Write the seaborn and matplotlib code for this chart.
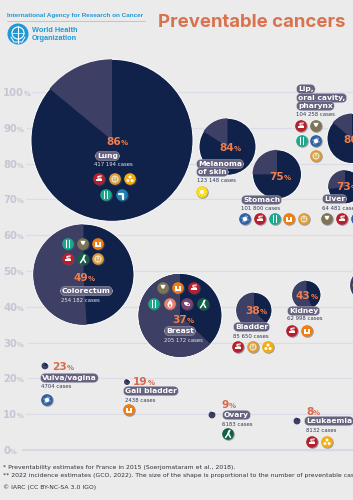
import matplotlib
matplotlib.use("Agg")
import matplotlib.pyplot as plt
from matplotlib.markers import MarkerStyle
from matplotlib.patches import Circle, Rectangle, Polygon, Ellipse
from matplotlib.path import Path
import pandas as pd
import seaborn as sns

# values
cancers = ["Lung", "Melanoma", "Stomach", "Lip", "Liver", "Colorectum", "Breast",
           "Bladder", "Kidney", "Vulva", "Gall", "Ovary", "Leukaemia", "Offscreen"]
preventable = [86, 84, 75, 86, 73, 49, 37, 38, 43, 23, 19, 9, 8, 46]
centre_pct = [86.5, 84.7, 77, 87, 73.5, 49, 37.6, 39, 43.3, 23.5, 19, 9.8, 8.1, 46]
grid_ticks = [0, 10, 20, 30, 40, 50, 60, 70, 80, 90, 100]

# layout, in pixels of the picture
grid_start = [22, 25, 27, 28, 26, 26, 26, 26, 26, 26, 32]
bubble_x = [112, 227.5, 277, 352, 345, 83.5, 180, 254, 306.5, 45, 127, 212, 297, 366]
bubble_r = [81, 28.5, 24.5, 25, 17, 50.5, 42, 18, 14.5, 3.5, 3, 3.5, 3.5, 16]
pct_xy = [(106, 141), (219, 147), (269, 176), (343, 139), (336, 186), (73, 277), (172, 319),
          (245, 310), (296, 295), (52, 366), (133, 381), (222, 404), (306, 411), (351, 284)]

# text name, left, y
pills = [("Lung", 97, 156), ("Melanoma", 198, 164), ("of skin", 198, 172), ("Stomach", 243, 200),
         ("Lip,", 298, 89), ("oral cavity,", 298, 98), ("pharynx", 298, 106), ("Liver", 324, 199),
         ("Colorectum", 62, 291), ("Breast", 166, 331), ("Bladder", 235, 327), ("Kidney", 289, 311),
         ("Vulva/vagina", 42, 378), ("Gall bladder", 125, 391), ("Ovary", 224, 415),
         ("Leukaemia", 306, 421)]
# text, left, y, on dark disc
case_labels = [("417 194 cases", 94, 165, True), ("123 148 cases", 197, 181, False),
               ("101 800 cases", 241, 208, False), ("104 258 cases", 296, 115, False),
               ("64 481 cases", 322, 208, False), ("254 182 cases", 61, 300, True),
               ("205 172 cases", 164, 340, True), ("85 650 cases", 233, 336, False),
               ("62 998 cases", 287, 319, False), ("4704 cases", 41, 387, False),
               ("2438 cases", 125, 401, False), ("6183 cases", 222, 424, False),
               ("8132 cases", 306, 431, False)]
icons = [("tobacco", 99, 179), ("mask", 115, 179), ("radiation", 130, 179), ("diet", 106, 195), ("pipe", 122, 195),
         ("sun", 202, 192),
         ("virus", 245, 219), ("tobacco", 260, 219), ("diet", 275, 219), ("weight", 289, 219), ("mask", 304, 219),
         ("tobacco", 301, 126), ("alcohol", 316, 126), ("diet", 302, 141), ("virus", 316, 141), ("mask", 316, 156),
         ("alcohol", 327, 219), ("tobacco", 342, 219), ("virus", 357, 219),
         ("diet", 68, 244), ("alcohol", 83, 244), ("weight", 98, 244), ("tobacco", 68, 259), ("run", 83, 259), ("mask", 98, 259),
         ("alcohol", 163, 288), ("weight", 178, 288), ("tobacco", 194, 288),
         ("diet", 154, 304), ("flame", 170, 304), ("feed", 187, 304), ("run", 203, 304),
         ("tobacco", 238, 347), ("mask", 253, 347), ("radiation", 268, 347),
         ("tobacco", 292, 331), ("weight", 307, 331),
         ("virus", 47, 400), ("weight", 129, 410), ("run", 228, 434),
         ("tobacco", 312, 442), ("radiation", 327, 442)]
icon_colors = {"tobacco": "#b5202c", "mask": "#dc9c3a", "radiation": "#f5ac0c", "diet": "#1ba98c",
               "pipe": "#1b80b5", "sun": "#f9d90f", "virus": "#2f5fa5", "weight": "#ee7d12",
               "alcohol": "#7d7456", "run": "#0f6246", "flame": "#ea8071", "feed": "#77466f"}

DARK = "#10214a"
LIGHT = "#3d4064"
BG = "#ebebeb"
BLUE = "#2198d6"
PX_PER_PCT = 3.58
ZERO_PX = 450

sns.set_theme(style="white", rc={"figure.facecolor": BG, "axes.facecolor": BG})
plt.rcParams["font.family"] = ["DejaVu Sans"]

fig = plt.figure(figsize=(3.53, 5.0), dpi=100)
ax = fig.add_axes([0, 0, 1, 1])
ax.set_xlim(0, 353)
ax.set_ylim((ZERO_PX - 500) / PX_PER_PCT, ZERO_PX / PX_PER_PCT)
ax.set_axis_off()

# overlay in picture pixels for labels and icons
deco = fig.add_axes([0, 0, 1, 1], facecolor="none")
deco.set_xlim(0, 353)
deco.set_ylim(500, 0)
deco.set_axis_off()

ax.hlines(grid_ticks, grid_start, 353, color="#dcdce7", lw=0.9, zorder=1)
ax.hlines([0], grid_start[0], 353, color="#d8d8e3", lw=1.5, zorder=1)


def pct_text(x, y, value, size, color, pct_size=None, z=5):
    t = deco.text(x, y, str(value), fontsize=size, color=color, fontweight="bold", ha="left", va="center_baseline", zorder=z)
    deco.annotate("%", xy=(1, 0.1), xycoords=t, xytext=(-0.2, 0), textcoords="offset points",
                  fontsize=pct_size or size * 0.68, color=color, fontweight="bold", ha="left", va="bottom", zorder=z)
    return t


for tick in grid_ticks:
    pct_text(3, ZERO_PX - tick * PX_PER_PCT, tick, 7.2, "#c5c5d5", 4.8, 1)

# bubbles
df = pd.DataFrame({"cancer": cancers, "x": bubble_x, "y": centre_pct, "r": bubble_r, "pct": preventable})
df["s"] = (2 * df["r"] * 72 / fig.dpi) ** 2
sns.scatterplot(data=df, x="x", y="y", s=df["s"].tolist(), color=DARK, edgecolor="white", linewidth=0.7,
                legend=False, ax=ax, zorder=3, clip_on=True)
for row in df.itertuples():
    arc = Path.wedge(90, 90 + 360 * (100 - row.pct) / 100)
    sns.scatterplot(x=[row.x], y=[row.y], s=row.s, color=LIGHT, edgecolor="none", linewidth=0,
                    marker=MarkerStyle(arc), legend=False, ax=ax, zorder=4)
ax.set_xlabel("")
ax.set_ylabel("")
ax.set_axis_off()

for (x, y), value, r in zip(pct_xy, preventable, bubble_r):
    if r > 10:
        pct_text(x, y, value, 7.6, "#f07f4e")
    else:
        pct_text(x, y, value, 7.6, "#d8694c")

for name, x, y in pills:
    deco.text(x, y, name, fontsize=5.4, color="white", fontweight="bold", ha="left", va="center",
              bbox=dict(boxstyle="round,pad=0.22,rounding_size=0.7", fc="#65637f", ec="#d8d8e0", lw=0.2), zorder=6)
for name, x, y, on_dark in case_labels:
    deco.text(x, y, name, fontsize=3.9, color="#e6e6ee" if on_dark else "#33395a", ha="left", va="center", zorder=6)


def draw_icon(kind, x, y):
    deco.add_patch(Circle((x + 0.7, y + 0.7), 6.1, fc="#5c5c66", ec="none", alpha=0.55, zorder=7))
    deco.add_patch(Circle((x, y), 5.8, fc=icon_colors[kind], ec="none", zorder=7))
    w = dict(fc="white", ec="none", zorder=8)
    if kind == "tobacco":
        deco.add_patch(Rectangle((x - 3.4, y + 0.2), 6.8, 1.6, **w))
        deco.plot([x + 2.5, x - 1, x - 1, x + 2], [y - 3, y - 2.6, y - 0.8, y - 0.8], color="white", lw=0.8, zorder=8)
    elif kind == "mask":
        deco.add_patch(Circle((x, y), 3.6, fc="#f4ddb0", ec="none", zorder=8))
        for dx, dy in [(-1.3, -1), (1.3, -1), (-1.3, 1), (0, 1), (1.3, 1)]:
            deco.add_patch(Circle((x + dx, y + dy), 0.55, fc="#9b6a2a", ec="none", zorder=9))
    elif kind == "radiation":
        for dx, dy in [(0, -2), (-2.1, 1.5), (2.1, 1.5)]:
            deco.add_patch(Circle((x + dx, y + dy), 1.5, **w))
    elif kind == "diet":
        deco.add_patch(Rectangle((x - 2.2, y - 3.8), 1.4, 7.6, **w))
        deco.add_patch(Rectangle((x + 0.9, y - 3.8), 1.4, 7.6, **w))
    elif kind == "pipe":
        deco.plot([x - 3.5, x + 1.2, x + 1.2], [y - 1.5, y - 1.5, y + 4], color="white", lw=1.6, zorder=8)
    elif kind == "sun":
        deco.add_patch(Circle((x, y), 2.2, **w))
        for dx, dy in [(-3.5, 0), (3.5, 0), (0, -3.5), (0, 3.5), (-2.5, -2.5), (2.5, -2.5), (-2.5, 2.5), (2.5, 2.5)]:
            deco.add_patch(Circle((x + dx, y + dy), 0.45, **w))
    elif kind == "virus":
        deco.add_patch(Circle((x, y), 2.3, **w))
        for dx, dy in [(-3, -1), (3, 1), (1, -3), (-1, 3), (2.4, -2.2), (-2.4, 2.2)]:
            deco.add_patch(Circle((x + dx, y + dy), 0.5, **w))
    elif kind == "weight":
        deco.add_patch(Rectangle((x - 3, y - 2.2), 6, 5.6, **w))
        deco.add_patch(Rectangle((x - 0.6, y - 1.6), 1.2, 2.5, fc=icon_colors[kind], ec="none", zorder=9))
    elif kind == "alcohol":
        deco.add_patch(Polygon([(x - 2.6, y - 3.2), (x + 2.6, y - 3.2), (x + 1, y + 0.6), (x - 1, y + 0.6)], **w))
        deco.add_patch(Rectangle((x - 0.4, y + 0.5), 0.8, 2.8, **w))
    elif kind == "run":
        deco.plot([x - 2.5, x + 0.3, x + 2.5], [y + 3.6, y - 0.5, y + 3.4], color="white", lw=1.1, zorder=8)
        deco.plot([x + 0.3, x + 1.2], [y - 0.5, y - 3], color="white", lw=1.4, zorder=8)
        deco.add_patch(Circle((x + 1.8, y - 3.6), 0.8, **w))
    elif kind == "flame":
        deco.add_patch(Ellipse((x, y + 0.6), 5, 6, **w))
        deco.add_patch(Polygon([(x - 2, y - 1), (x + 2, y - 1), (x + 0.3, y - 4.4)], **w))
        deco.add_patch(Ellipse((x, y + 1.5), 2, 2.8, fc=icon_colors[kind], ec="none", zorder=9))
    elif kind == "feed":
        deco.add_patch(Ellipse((x, y), 6.4, 3.6, angle=25, **w))
        deco.add_patch(Circle((x + 1.2, y + 0.5), 0.8, fc=icon_colors[kind], ec="none", zorder=9))


for kind, x, y in icons:
    draw_icon(kind, x, y)

# header
deco.text(7, 15, "International Agency for Research on Cancer", fontsize=4.6, color=BLUE, fontweight="bold",
          family="Liberation Sans", ha="left", va="center")
deco.plot([7, 145], [21, 21], color="#8ecdea", lw=0.6)
deco.add_patch(Circle((18, 34), 10.5, fc=BLUE, ec="none"))
deco.add_patch(Circle((18, 33), 6, fc="none", ec="white", lw=0.8))
deco.plot([12, 24], [33, 33], color="white", lw=0.5)
deco.plot([18, 18], [26, 43], color="white", lw=0.8)
deco.plot([11, 14, 22, 25], [37, 42, 42, 37], color="white", lw=0.7)
deco.text(32, 30.5, "World Health", fontsize=5.3, color=BLUE, fontweight="bold",
          family="Liberation Sans", ha="left", va="center")
deco.text(32, 39, "Organization", fontsize=5.3, color=BLUE, fontweight="bold",
          family="Liberation Sans", ha="left", va="center")
deco.text(158, 22.5, "Preventable cancers", fontsize=13.4, color="#d9734f", fontweight="bold",
          family="Inter", ha="left", va="center")

# footnotes
deco.text(3, 468, "* Preventability estimates for France in 2015 (Soerjomataram et al., 2018).", fontsize=4.45,
          color="#30303a", ha="left", va="center")
deco.text(3, 476, "** 2022 incidence estimates (GCO, 2022). The size of the shape is proportional to the number of preventable cases.",
          fontsize=4.45, color="#30303a", ha="left", va="center")
deco.text(3, 487, "© IARC (CC BY-NC-SA 3.0 IGO)", fontsize=4.45, color="#30303a", ha="left", va="center")

fig.savefig("out.png", dpi=100, facecolor=BG)
